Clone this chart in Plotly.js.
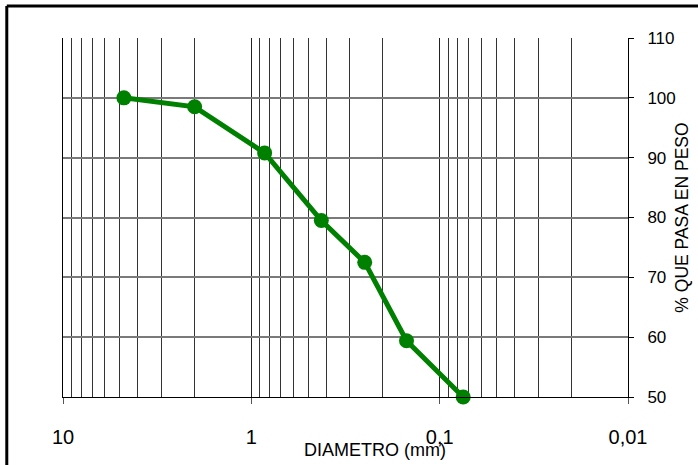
<!DOCTYPE html>
<html>
<head>
<meta charset="utf-8">
<script src="https://cdn.plot.ly/plotly-3.0.1.min.js"></script>
<style>
  html, body { margin: 0; padding: 0; background: #fff; }
  #chart { width: 698px; height: 465px; }
</style>
</head>
<body>
<div id="chart"></div>
<script>
// Sieve diameters (mm) and percent passing by weight
const diameters = [4.75, 2.0, 0.85, 0.425, 0.25, 0.15, 0.075];
const passing = [100, 98.5, 90.8, 79.5, 72.5, 59.4, 50];

// Axis ticks
const xMajorVals = [10, 1, 0.1, 0.01];
const xMajorText = ['10', '1', '0,1', '0,01'];
const xMinorVals = [9, 8, 7, 6, 5, 4, 3, 2, 0.9, 0.8, 0.7, 0.6, 0.5, 0.4, 0.3, 0.2, 0.09, 0.08, 0.07, 0.06, 0.05, 0.04, 0.03, 0.02];
const yTickVals = [50, 60, 70, 80, 90, 100, 110];

const xTitle = 'DIAMETRO (mm)';
const yTitle = '% QUE PASA EN PESO';

const font = 'Arial, "Liberation Sans", sans-serif';

const trace = {
  x: diameters,
  y: passing,
  type: 'scatter',
  mode: 'lines+markers',
  line: { color: '#008000', width: 5 },
  marker: { color: '#008000', size: 15 },
  cliponaxis: false,
  hoverinfo: 'x+y'
};

const layout = {
  width: 698,
  height: 465,
  margin: { l: 63, r: 70, t: 38, b: 68 },
  paper_bgcolor: '#ffffff',
  plot_bgcolor: '#ffffff',
  showlegend: false,
  font: { family: font, color: '#000' },
  xaxis: {
    type: 'log',
    range: [1, -2],
    autorange: false,
    tickmode: 'array',
    tickvals: xMajorVals,
    ticktext: xMajorText,
    ticks: 'outside',
    ticklen: 6,
    tickcolor: '#555',
    tickfont: { size: 20, family: font },
    ticklabelstandoff: 16,
    showgrid: true,
    gridcolor: '#222',
    gridwidth: 1,
    showline: true,
    linecolor: '#000',
    linewidth: 1,
    zeroline: false,
    minor: {
      tickmode: 'array',
      tickvals: xMinorVals,
      showgrid: true,
      gridcolor: '#333',
      gridwidth: 1,
      ticks: ''
    }
  },
  yaxis: {
    side: 'right',
    range: [50, 110],
    autorange: false,
    tickmode: 'array',
    tickvals: yTickVals,
    ticks: 'outside',
    ticklen: 5,
    tickcolor: '#000',
    tickfont: { size: 17, family: font },
    ticklabelstandoff: 10,
    showgrid: true,
    gridcolor: '#7a7a7a',
    gridwidth: 2,
    showline: true,
    mirror: true,
    linecolor: '#000',
    linewidth: 1,
    zeroline: false,
    title: { text: yTitle, font: { size: 17.5, family: font }, standoff: 0 }
  },
  annotations: [{
    text: xTitle,
    xref: 'paper', yref: 'paper',
    x: 0.552, y: -0.148,
    xanchor: 'center', yanchor: 'middle',
    showarrow: false,
    font: { size: 18, family: font, color: '#000' }
  }],
  shapes: [
    { type: 'line', xref: 'paper', yref: 'paper', x0: -0.0995, x1: 1.3, y0: 1.0893, y1: 1.0893, line: { color: '#000', width: 3 } },
    { type: 'line', xref: 'paper', yref: 'paper', x0: -0.0995, x1: -0.0995, y0: 1.0893, y1: -0.4, line: { color: '#000', width: 3 } }
  ]
};

Plotly.newPlot('chart', [trace], layout, { displayModeBar: false, staticPlot: true });
</script>
</body>
</html>
